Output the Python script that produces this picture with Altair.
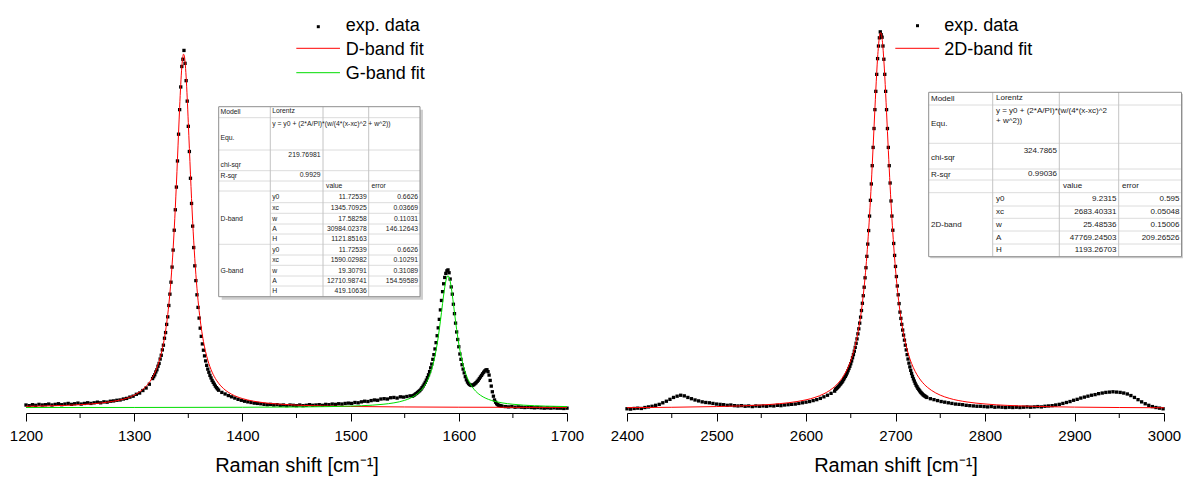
import altair as alt
import pandas as pd

FONT = "Liberation Sans"

# ---------------- values ----------------
# Left panel, experimental points (Raman shift in cm-1, intensity in counts)
d_exp_x = ([1200, 1203, 1206, 1209, 1212, 1215, 1218, 1221, 1224, 1227, 1230, 1233, 1236, 1239, 1242, 1245, 1248, 1251,
            1254, 1257, 1260, 1263, 1266, 1269, 1272, 1275, 1278, 1281, 1284, 1287, 1290, 1293, 1296, 1299, 1302, 1305,
            1308, 1311, 1314, 1317]
           + [1318, 1319, 1320, 1321, 1322, 1323, 1324, 1325, 1326, 1327, 1328, 1329, 1330, 1331, 1332, 1333, 1334, 1335,
              1336, 1337, 1338, 1339, 1340, 1341, 1342, 1343, 1344, 1345, 1346, 1347, 1348, 1349, 1350, 1351, 1352, 1353,
              1354, 1355, 1356, 1357, 1358, 1359, 1360, 1361, 1362, 1363, 1364, 1365, 1366, 1367, 1368, 1369, 1370, 1371,
              1372, 1373, 1374, 1375, 1376, 1377, 1378]
           + [1381, 1384, 1387, 1390, 1393, 1396, 1399, 1402, 1405, 1408, 1411, 1414, 1417, 1420, 1423, 1426, 1429, 1432,
              1435, 1438, 1441, 1444, 1447, 1450, 1453, 1456, 1459, 1462, 1465, 1468, 1471, 1474, 1477, 1480, 1483, 1486,
              1489, 1492, 1495, 1498, 1501, 1504, 1507, 1510, 1513, 1516, 1519, 1522, 1525, 1528, 1531, 1534, 1537, 1540,
              1543, 1546, 1549, 1552, 1555]
           + [1557, 1558, 1559, 1560, 1561, 1562, 1563, 1564, 1565, 1566, 1567, 1568, 1569, 1570, 1571, 1572, 1573, 1574,
              1575, 1576, 1577, 1578, 1579, 1580, 1581, 1582, 1583, 1584, 1585, 1586, 1587, 1588, 1589, 1590, 1591, 1592,
              1593, 1594, 1595, 1596, 1597, 1598, 1599, 1600, 1601, 1602, 1603, 1604, 1605, 1606, 1607, 1608, 1609, 1610,
              1611, 1612, 1613, 1614, 1615, 1616, 1617, 1618, 1619, 1620, 1621, 1622, 1623, 1624, 1625, 1626, 1627, 1628,
              1629, 1630, 1631, 1632, 1633, 1634, 1635, 1636, 1637, 1638, 1639, 1640]
           + [1643, 1646, 1649, 1652, 1655, 1658, 1661, 1664, 1667, 1670, 1673, 1676, 1679, 1682, 1685, 1688, 1691, 1694,
              1697, 1700])
d_exp_y = ([20, 18, 21, 19, 22, 20, 21, 23, 20, 22, 24, 21, 23, 25, 22, 24, 26, 23, 25, 27, 25, 27, 29, 27, 30, 29, 32,
            33, 35, 36, 39, 41, 45, 48, 54, 58, 66, 74, 86, 104]
           + [110, 116, 125, 132, 143, 152, 166, 178, 195, 210, 232, 250, 276, 300, 336, 372, 410, 458, 512, 575, 640, 712,
              795, 880, 958, 1030, 1095, 1118, 1146, 1105, 1050, 985, 905, 825, 740, 660, 588, 520, 462, 415, 370, 330,
              296, 264, 238, 214, 194, 176, 160, 146, 134, 124, 114, 106, 98, 92, 86, 80, 75, 71, 67]
           + [60, 55, 50, 46, 42, 38, 35, 32, 30, 28, 26, 25, 24, 22, 21, 22, 20, 21, 19, 20, 18, 20, 19, 18, 20, 18, 19,
              21, 19, 20, 21, 19, 22, 21, 23, 22, 24, 23, 25, 26, 25, 28, 27, 30, 32, 31, 34, 36, 35, 39, 40, 39, 43, 44,
              42, 46, 45, 47, 49]
           + [48, 50, 52, 55, 57, 60, 63, 66, 70, 75, 80, 86, 92, 99, 107, 116, 126, 138, 150, 165, 180, 198, 218, 240,
              265, 292, 322, 352, 380, 405, 425, 438, 446, 449, 440, 420, 395, 372, 340, 310, 280, 252, 228, 205, 182,
              165, 148, 134, 122, 110, 100, 93, 88, 85, 83, 82, 83, 85, 88, 91, 95, 99, 104, 109, 114, 119, 124, 128, 131,
              132, 126, 115, 98, 80, 62, 48, 36, 29, 24, 21, 19, 18, 17, 16]
           + [15, 14, 15, 13, 14, 13, 12, 13, 12, 11, 12, 11, 10, 11, 10, 11, 10, 10, 9, 10])

# Left panel, D-band Lorentz fit (red)
d_fit_x = [1200, 1225, 1250, 1270, 1280, 1290, 1300, 1305, 1310, 1313, 1316, 1318, 1320, 1322, 1324, 1326, 1328, 1330,
           1331, 1332, 1333, 1334, 1335, 1336, 1337, 1338, 1339, 1340, 1341, 1342, 1343, 1344, 1345, 1345.5, 1346, 1347,
           1348, 1349, 1350, 1351, 1352, 1353, 1354, 1355, 1356, 1357, 1358, 1359, 1360, 1361, 1362, 1364, 1366, 1368,
           1370, 1372, 1374, 1376, 1378, 1380, 1385, 1390, 1400, 1410, 1420, 1435, 1450, 1475, 1500, 1550, 1600, 1650,
           1700]
d_fit_y = [15.8, 17.6, 21.0, 26.6, 31.4, 38.3, 51.4, 61.7, 75.9, 87.3, 102.1, 114.4, 129.2, 147.4, 169.9, 198.0, 233.7,
           279.5, 307.2, 338.9, 375.1, 416.5, 463.8, 517.6, 578.5, 646.6, 721.4, 801.6, 884.3, 964.9, 1037.0, 1093.3,
           1126.7, 1133.9, 1132.9, 1109.7, 1061.9, 995.2, 917.1, 834.6, 753.0, 675.7, 604.9, 541.1, 484.5, 434.7, 391.0,
           352.8, 319.4, 290.1, 264.5, 222.0, 188.9, 162.6, 141.5, 124.4, 110.4, 98.8, 89.1, 80.8, 65.2, 54.2, 40.4,
           32.3, 27.2, 22.5, 19.6, 16.9, 15.3, 13.8, 13.0, 12.6, 12.4]

# Left panel, G-band Lorentz fit (green)
g_fit_x = [1200, 1300, 1400, 1450, 1480, 1500, 1520, 1530, 1540, 1545, 1550, 1555, 1560, 1563, 1566, 1568, 1570, 1572,
           1574, 1575, 1576, 1577, 1578, 1579, 1580, 1581, 1582, 1583, 1584, 1585, 1586, 1587, 1588, 1589, 1590, 1591,
           1592, 1593, 1594, 1595, 1596, 1597, 1598, 1599, 1600, 1601, 1602, 1603, 1604, 1605, 1606, 1608, 1610, 1612,
           1614, 1617, 1620, 1625, 1630, 1640, 1650, 1660, 1680, 1700]
g_fit_y = [12.0, 12.2, 12.8, 13.7, 14.9, 16.5, 19.5, 22.3, 26.8, 30.1, 34.8, 41.3, 51.0, 59.2, 70.1, 79.4, 90.9, 105.3,
           123.6, 134.4, 146.8, 160.7, 176.4, 194.0, 213.8, 235.9, 260.1, 286.3, 313.9, 342.1, 369.3, 393.7, 413.4,
           426.2, 430.6, 426.2, 413.4, 393.7, 369.3, 342.1, 313.9, 286.3, 260.1, 235.9, 213.8, 194.0, 176.4, 160.7,
           146.8, 134.4, 123.6, 105.3, 90.9, 79.4, 70.1, 59.2, 51.0, 41.3, 34.8, 26.8, 22.3, 19.5, 16.5, 14.9]

# Right panel, experimental points
r_exp_x = ([2400, 2404, 2408, 2412, 2416, 2420, 2424, 2428, 2432, 2436, 2440, 2444, 2448, 2452, 2456, 2460, 2464, 2468,
            2472, 2476, 2480, 2484, 2488, 2492, 2496, 2500, 2504, 2508, 2512, 2516, 2520, 2524, 2528, 2532, 2536, 2540,
            2544, 2548, 2552, 2556, 2560, 2564, 2568, 2572, 2576, 2580, 2584, 2588, 2592, 2596, 2600, 2604, 2608, 2612,
            2616, 2620, 2624, 2628, 2632]
           + [2633, 2634, 2635, 2636, 2637, 2638, 2639, 2640, 2641, 2642, 2643, 2644, 2645, 2646, 2647, 2648, 2649, 2650,
              2651, 2652, 2653, 2654, 2655, 2656, 2657, 2658, 2659, 2660, 2661, 2662, 2663, 2664, 2665, 2666, 2667, 2668,
              2669, 2670, 2671, 2672, 2673, 2674, 2675, 2676, 2677, 2678, 2679, 2680, 2681, 2682, 2683, 2684, 2685, 2686,
              2687, 2688, 2689, 2690, 2691, 2692, 2693, 2694, 2695, 2696, 2697, 2698, 2699, 2700, 2701, 2702, 2703, 2704,
              2705, 2706, 2707, 2708, 2709, 2710, 2711, 2712, 2713, 2714, 2715, 2716, 2717, 2718, 2719, 2720, 2721, 2722,
              2723, 2724, 2725, 2726, 2727, 2728, 2729, 2730, 2731, 2732, 2733, 2734, 2735]
           + [2739, 2743, 2747, 2751, 2755, 2759, 2763, 2767, 2771, 2775, 2779, 2783, 2787, 2791, 2795, 2799, 2803, 2807,
              2811, 2815, 2819, 2823, 2827, 2831, 2835, 2839, 2843, 2847, 2851, 2855, 2859, 2863, 2867, 2871, 2875, 2879,
              2883, 2887, 2891, 2895, 2899, 2903, 2907, 2911, 2915, 2919, 2923, 2927, 2931, 2935, 2939, 2943, 2947, 2951,
              2955, 2959, 2963, 2967, 2971, 2975, 2979, 2983, 2987, 2991, 2995, 2999])
r_exp_y = ([8, 7, 9, 10, 9, 12, 14, 16, 19, 22, 27, 32, 38, 44, 48, 51, 49, 44, 40, 36, 33, 30, 28, 27, 25, 23, 22, 21,
            19, 20, 18, 17, 18, 16, 17, 15, 17, 16, 17, 16, 18, 17, 19, 18, 20, 21, 22, 23, 25, 27, 29, 31, 34, 37, 41,
            46, 51, 57, 64]
           + [70, 72, 75, 78, 81, 85, 88, 92, 96, 101, 106, 111, 116, 122, 129, 136, 143, 151, 160, 170, 180, 191, 203,
              216, 230, 246, 262, 280, 299, 320, 343, 367, 394, 424, 456, 492, 531, 574, 620, 670, 722, 780, 838, 898,
              958, 1016, 1070, 1120, 1160, 1186, 1205, 1196, 1188, 1160, 1118, 1070, 1016, 958, 898, 838, 780, 725, 668,
              620, 575, 533, 495, 460, 428, 398, 370, 342, 315, 295, 276, 258, 242, 226, 210, 195, 180, 166, 153, 141,
              130, 120, 111, 103, 96, 89, 83, 78, 73, 69, 65, 61, 58, 55, 52, 50, 48, 46, 44]
           + [40, 37, 34, 31, 29, 27, 25, 23, 22, 21, 19, 18, 17, 16, 16, 15, 14, 15, 13, 14, 13, 12, 13, 12, 13, 12, 13,
              14, 13, 14, 15, 14, 16, 17, 18, 20, 22, 25, 28, 31, 35, 38, 42, 45, 48, 51, 53, 56, 58, 60, 61, 62, 61, 60,
              58, 55, 50, 44, 37, 30, 24, 19, 15, 12, 10, 8])

# Right panel, 2D-band Lorentz fit (red)
r_fit_x = [2400, 2450, 2500, 2530, 2550, 2570, 2590, 2600, 2610, 2620, 2626, 2630, 2634, 2638, 2642, 2645, 2648, 2650,
           2652, 2654, 2656, 2658, 2660, 2661, 2662, 2663, 2664, 2665, 2666, 2667, 2668, 2669, 2670, 2671, 2672, 2673,
           2674, 2675, 2676, 2677, 2678, 2679, 2680, 2681, 2682, 2683, 2683.4, 2684, 2685, 2686, 2687, 2688, 2689, 2690,
           2691, 2692, 2693, 2694, 2695, 2696, 2697, 2698, 2699, 2700, 2701, 2702, 2703, 2704, 2705, 2706, 2708, 2710,
           2712, 2714, 2716, 2718, 2720, 2724, 2728, 2732, 2736, 2740, 2750, 2760, 2780, 2800, 2850, 2900, 2950, 3000]
r_fit_y = [11.6, 12.8, 15.0, 17.4, 20.0, 24.1, 31.0, 36.4, 44.1, 55.6, 65.3, 73.5, 83.7, 96.4, 112.5, 127.6, 146.1,
           160.8, 177.9, 197.9, 221.4, 249.1, 282.1, 300.9, 321.5, 344.0, 368.8, 395.9, 425.7, 458.2, 493.9, 533.2,
           575.7, 621.9, 671.6, 724.8, 781.9, 840.8, 901.1, 961.3, 1019.7, 1075.2, 1122.7, 1160.8, 1188.8, 1201.5,
           1202.5, 1200.0, 1183.5, 1154.0, 1113.2, 1065.1, 1009.2, 949.8, 888.9, 828.5, 769.8, 714.4, 661.6, 612.3,
           566.8, 524.9, 486.7, 451.6, 419.5, 390.2, 363.6, 339.4, 317.2, 297.0, 261.6, 231.9, 206.8, 185.5, 167.3,
           151.7, 138.2, 116.2, 99.3, 86.0, 75.4, 66.8, 51.3, 41.3, 29.6, 23.3, 16.2, 13.3, 12.0, 11.2]

# Axis ticks
left_major = [1200, 1300, 1400, 1500, 1600, 1700]
left_minor = [1250, 1350, 1450, 1550, 1650]
right_major = [2400, 2500, 2600, 2700, 2800, 2900, 3000]
right_minor = [2450, 2550, 2650, 2750, 2850, 2950]
x_title = "Raman shift [cm⁻¹]"

# Legend labels
left_legend = ["exp. data", "D-band fit", "G-band fit"]
right_legend = ["exp. data", "2D-band fit"]

# Fit-result tables
param_names = ["y0", "xc", "w", "A", "H"]
eq_text = "y = y0 + (2*A/PI)*(w/(4*(x-xc)^2 + w^2))"
eq_lines_right = ["y = y0 + (2*A/PI)*(w/(4*(x-xc)^2", "+ w^2))"]
left_chi, left_rsq = "219.76981", "0.9929"
d_band_val = ["11.72539", "1345.70925", "17.58258", "30984.02378", "1121.85163"]
d_band_err = ["0.6626", "0.03669", "0.11031", "146.12643", ""]
g_band_val = ["11.72539", "1590.02982", "19.30791", "12710.98741", "419.10636"]
g_band_err = ["0.6626", "0.10291", "0.31089", "154.59589", ""]
right_chi, right_rsq = "324.7865", "0.99036"
d2_band_val = ["9.2315", "2683.40331", "25.48536", "47769.24503", "1193.26703"]
d2_band_err = ["0.595", "0.05048", "0.15006", "209.26526", ""]

# ---------------- layout (page pixels) ----------------
PLOT_H = 403
Y_MIN, Y_MAX = -5.4, 1274.4
TOP = 10.0
L_W, R_W = 541, 537
L_DOM, R_DOM = (1200, 1700), (2400, 3000)
L_X0 = 27.0
R_X0 = 626.0
PAD_LEFT = 9
SPACING = 26

RED, GREEN = "#ff0000", "#00dd00"
GRID_H, GRID_V, BORDER = "#dcdcdc", "#c4c4c4", "#8e8e8e"


def tx(px, x0, dom, w):
    return dom[0] + (px - x0) * (dom[1] - dom[0]) / w


def ty(py):
    return Y_MAX - (py - TOP) * (Y_MAX - Y_MIN) / PLOT_H


def x_axis(values):
    return alt.Axis(values=values, format="d", title=x_title, grid=False, labelFlush=False,
                    domainColor="black", domainWidth=1, tickColor="black", tickWidth=1, tickSize=8,
                    labelFontSize=15, labelFont=FONT, labelColor="black", labelPadding=7,
                    titleFontSize=20, titleFont=FONT, titleFontWeight="normal", titleColor="black",
                    titlePadding=12)


def table_layers(xenc, yenc, x0, dom, w, cols, hfull, hpart, top, bottom, shadow, texts_l, texts_r, fs):
    X = lambda p: tx(p, x0, dom, w)
    rects = pd.DataFrame({
        "x": [X(cols[0] + shadow), X(cols[0])], "x2": [X(cols[-1] + shadow), X(cols[-1])],
        "y": [ty(top + shadow), ty(top)], "y2": [ty(bottom + shadow), ty(bottom)],
        "c": ["#cfcfcf", "#ffffff"], "o": [0, 1]})
    lines = []
    for yy in hfull:
        lines.append((cols[0], cols[-1], yy, yy, GRID_H))
    for yy in hpart:
        lines.append((cols[1], cols[-1], yy, yy, GRID_H))
    for xx in cols[1:-1]:
        lines.append((xx, xx, top, bottom, GRID_V))
    lines += [(cols[0], cols[-1], top, top, BORDER), (cols[0], cols[-1], bottom, bottom, BORDER),
              (cols[0], cols[0], top, bottom, BORDER), (cols[-1], cols[-1], top, bottom, BORDER)]
    ldf = pd.DataFrame({"x": [X(l[0]) for l in lines], "x2": [X(l[1]) for l in lines],
                        "y": [ty(l[2]) for l in lines], "y2": [ty(l[3]) for l in lines],
                        "c": [l[4] for l in lines]})
    tl = pd.DataFrame({"x": [X(t[1]) for t in texts_l], "y": [ty(t[2]) for t in texts_l], "t": [t[0] for t in texts_l]})
    tr = pd.DataFrame({"x": [X(t[1]) for t in texts_r], "y": [ty(t[2]) for t in texts_r], "t": [t[0] for t in texts_r]})
    return [
        alt.Chart(rects).mark_rect().encode(x=xenc, x2="x2:Q", y=yenc, y2="y2:Q",
                                           color=alt.Color("c:N", scale=None), order="o:Q"),
        alt.Chart(ldf).mark_rule(strokeWidth=1).encode(x=xenc, x2="x2:Q", y=yenc, y2="y2:Q",
                                                       color=alt.Color("c:N", scale=None)),
        alt.Chart(tl).mark_text(align="left", baseline="middle", font=FONT, fontSize=fs, color="#1a1a1a")
            .encode(x=xenc, y=yenc, text="t:N"),
        alt.Chart(tr).mark_text(align="right", baseline="middle", font=FONT, fontSize=fs, color="#1a1a1a")
            .encode(x=xenc, y=yenc, text="t:N"),
    ]


def legend_layers(xenc, yenc, x0, dom, w, line_x, sq, lines, labels, text_x, baselines):
    X = lambda p: tx(p, x0, dom, w)
    ldf = pd.DataFrame({"x": [X(line_x[0])] * len(lines), "x2": [X(line_x[1])] * len(lines),
                        "y": [ty(l[0]) for l in lines], "c": [l[1] for l in lines]})
    sdf = pd.DataFrame({"x": [X(sq[0])], "y": [ty(sq[1])]})
    tdf = pd.DataFrame({"x": [X(text_x)] * len(labels), "y": [ty(b) for b in baselines], "t": labels})
    return [
        alt.Chart(ldf).mark_rule(strokeWidth=1).encode(x=xenc, x2="x2:Q", y=yenc,
                                                       color=alt.Color("c:N", scale=None)),
        alt.Chart(sdf).mark_square(size=9, color="black", opacity=1).encode(x=xenc, y=yenc),
        alt.Chart(tdf).mark_text(align="left", baseline="alphabetic", font=FONT, fontSize=18, color="black")
            .encode(x=xenc, y=yenc, text="t:N"),
    ]


def panel(dom, w, x0, major, minor, ex, ey, fits, tables, legends):
    xenc = alt.X("x:Q", scale=alt.Scale(domain=list(dom), nice=False, zero=False), axis=x_axis(major))
    yenc = alt.Y("y:Q", scale=alt.Scale(domain=[Y_MIN, Y_MAX], nice=False, zero=False), axis=None)
    layers = []
    layers += tables(xenc, yenc)
    layers.append(alt.Chart(pd.DataFrame({"x": ex, "y": ey}))
                  .mark_square(size=11, color="black", opacity=1).encode(x=xenc, y=yenc))
    for fx, fy, col in fits:
        layers.append(alt.Chart(pd.DataFrame({"x": fx, "y": fy}))
                      .mark_line(color=col, strokeWidth=1, interpolate="monotone").encode(x=xenc, y=yenc))
    layers.append(alt.Chart(pd.DataFrame({"x": minor})).mark_rule(color="black", strokeWidth=1)
                  .encode(x=xenc, y=alt.value(PLOT_H), y2=alt.value(PLOT_H + 5)))
    layers += legends(xenc, yenc)
    return alt.layer(*layers).properties(width=w, height=PLOT_H)


# ----- left table geometry -----
lt_cols = [219.7, 271.3, 324.0, 369.7, 421.0]
lt_rows = [191.0, 202.7, 213.3, 224.0, 234.0, 244.3, 255.0, 265.3, 276.0, 286.0, 296.7]
lt_centers = [(a + b) / 2 for a, b in zip(lt_rows[:-1], lt_rows[1:])]
lt_texts_l = [("Modell", 221.5, 112.3), ("Lorentz", 273.2, 111.2), (eq_text, 273.2, 123.5), ("Equ.", 221.5, 137.5),
              ("chi-sqr", 221.5, 165.0), ("R-sqr", 221.5, 176.0), ("value", 327.0, 186.0), ("error", 372.5, 186.0),
              ("D-band", 221.5, lt_centers[2]), ("G-band", 221.5, lt_centers[7])]
lt_texts_l += [(n, 273.2, c) for n, c in zip(param_names * 2, lt_centers)]
lt_texts_r = [(left_chi, 321.5, 154.5), (left_rsq, 321.5, 175.0)]
lt_texts_r += [(v, 367.7, c) for v, c in zip(d_band_val + g_band_val, lt_centers)]
lt_texts_r += [(e, 419.0, c) for e, c in zip(d_band_err + g_band_err, lt_centers) if e]

# ----- right table geometry -----
rt_cols = [927.7, 991.7, 1058.3, 1117.7, 1180.5]
rt_rows = [192.7, 206.0, 218.3, 231.0, 244.0, 256.7]
rt_centers = [(a + b) / 2 for a, b in zip(rt_rows[:-1], rt_rows[1:])]
rt_texts_l = [("Modell", 930.0, 99.0), ("Lorentz", 995.0, 98.2), (eq_lines_right[0], 995.0, 110.5),
              (eq_lines_right[1], 995.0, 120.5), ("Equ.", 930.0, 124.0), ("chi-sqr", 930.0, 158.0),
              ("R-sqr", 930.0, 175.0), ("value", 1062.0, 186.3), ("error", 1121.0, 186.3),
              ("2D-band", 930.0, rt_centers[2])]
rt_texts_l += [(n, 995.0, c) for n, c in zip(param_names, rt_centers)]
rt_texts_r = [(right_chi, 1056.0, 151.0), (right_rsq, 1056.0, 174.0)]
rt_texts_r += [(v, 1115.5, c) for v, c in zip(d2_band_val, rt_centers)]
rt_texts_r += [(e, 1178.5, c) for e, c in zip(d2_band_err, rt_centers) if e]

left = panel(
    L_DOM, L_W, L_X0, left_major, left_minor, d_exp_x, d_exp_y,
    [(d_fit_x, d_fit_y, RED), (g_fit_x, g_fit_y, GREEN)],
    lambda xe, ye: table_layers(xe, ye, L_X0, L_DOM, L_W, lt_cols,
                                [117.7, 150.0, 170.7, 181.0, 191.0, 244.3],
                                [202.7, 213.3, 224.0, 234.0, 255.0, 265.3, 276.0, 286.0],
                                106.7, 296.7, 3.0, lt_texts_l, lt_texts_r, 6.8),
    lambda xe, ye: legend_layers(xe, ye, L_X0, L_DOM, L_W, (297.3, 341.0), (319.3, 26.7),
                                 [(48.3, RED), (72.7, GREEN)], left_legend, 346.7, [31.0, 55.0, 79.0]),
)

right = panel(
    R_DOM, R_W, R_X0, right_major, right_minor, r_exp_x, r_exp_y,
    [(r_fit_x, r_fit_y, RED)],
    lambda xe, ye: table_layers(xe, ye, R_X0, R_DOM, R_W, rt_cols,
                                [105.0, 143.3, 169.0, 180.0, 192.7],
                                [206.0, 218.3, 231.0, 244.0],
                                92.3, 256.7, 1.5, rt_texts_l, rt_texts_r, 8.0),
    lambda xe, ye: legend_layers(xe, ye, R_X0, R_DOM, R_W, (894.3, 938.3), (916.5, 25.7),
                                 [(48.3, RED)], right_legend, 943.3, [31.0, 55.0]),
)

chart = (alt.hconcat(left, right, spacing=SPACING)
         .properties(padding={"left": PAD_LEFT, "top": 10, "right": 0, "bottom": 2}, background="white")
         .configure(font=FONT)
         .configure_view(strokeWidth=0, stroke=None))

chart.save("out.html", embed_options={"renderer": "svg", "actions": False})
